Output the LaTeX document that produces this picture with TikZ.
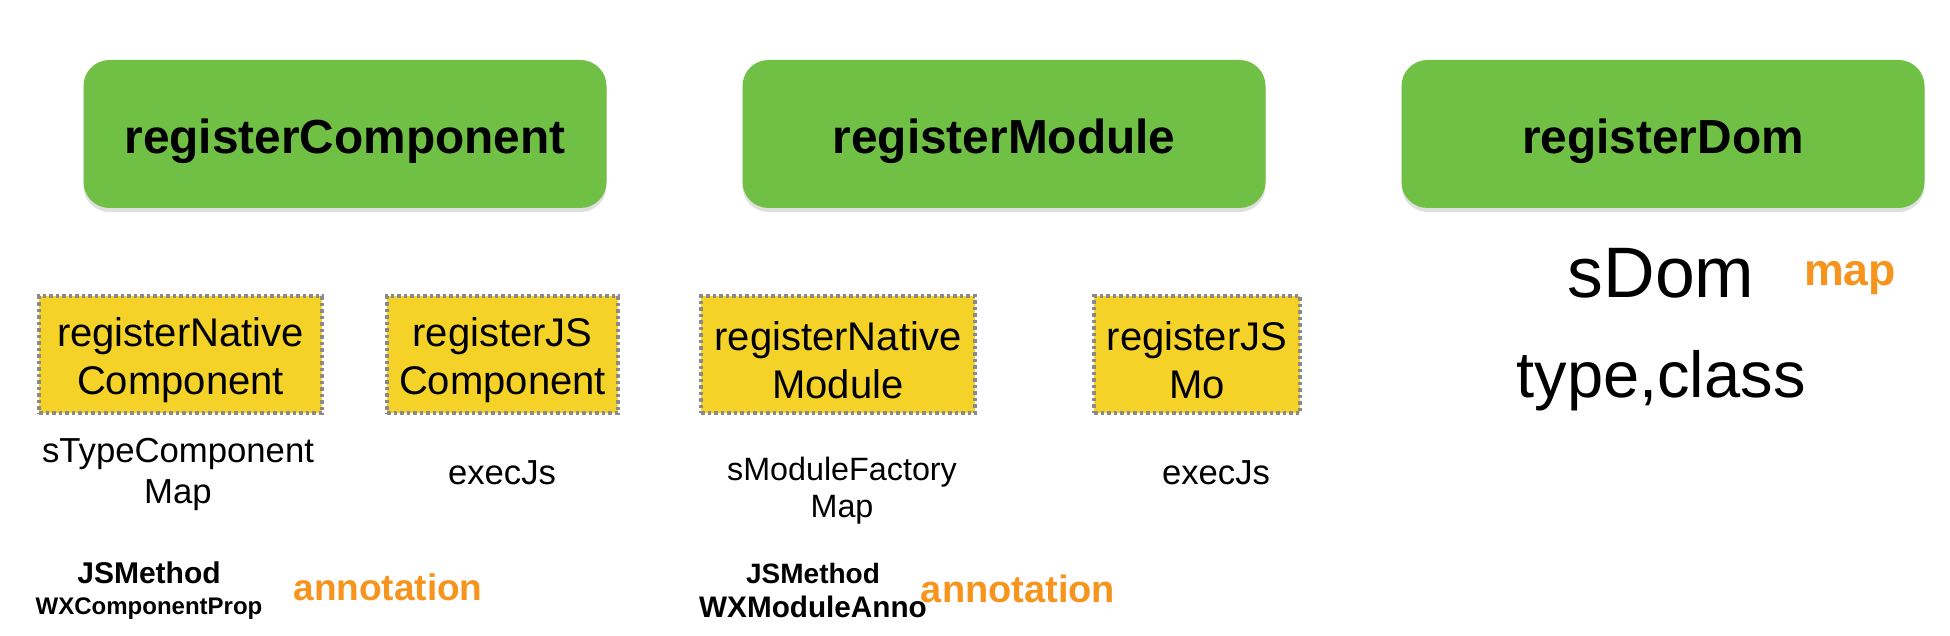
\documentclass[tikz,border=0pt]{standalone}
\usepackage{fontspec}
\setmainfont{Liberation Sans}
\usepackage{xcolor}
\usetikzlibrary{shadows}

\definecolor{regGreen}{RGB}{112,192,69}
\definecolor{natYellow}{RGB}{245,210,40}
\definecolor{dashGray}{RGB}{138,138,138}
\definecolor{annoOrange}{RGB}{247,148,29}

% lower a line of text without changing its box
\newcommand{\lowline}[1]{\raisebox{-6pt}[\height][\depth]{#1}}

\begin{document}
\begin{tikzpicture}[x=1pt, y=-1pt,
    regbox/.style={rectangle, rounded corners=26pt, fill=regGreen, minimum width=523pt, minimum height=148pt, inner sep=0pt, text height=50pt, text depth=10pt, font=\fontsize{47.8}{57}\selectfont\bfseries, drop shadow={shadow xshift=0pt, shadow yshift=-4pt, opacity=0.25}},
    natbox/.style={rectangle, fill=natYellow, draw=dashGray, line width=3.5pt, dash pattern=on 3.5pt off 3pt, minimum height=117pt, inner sep=0pt, align=center, font=\fontsize{40}{48}\selectfont},
    maplabel/.style={align=center, inner sep=0pt, font=\fontsize{34.7}{41}\selectfont},
    methodlabel/.style={inner sep=0pt, font=\fontsize{30}{36}\selectfont\bfseries},
    annolabel/.style={inner sep=0pt, text=annoOrange, font=\fontsize{37}{44}\selectfont\bfseries}]

    \path[use as bounding box, fill=white] (0,0) rectangle (1950,636);

    % register calls
    \node (regcomp) [regbox] at (345,134) {registerComponent};
    \node (regmod) [regbox] at (1004,134) {registerModule};
    \node (regdom) [regbox] at (1663,134) {registerDom};

    % native / js registration
    \node (nativecomp) [natbox, minimum width=283pt] at (180.5,354.5) {\lowline{registerNative}\\\lowline{Component}};
    \node (jscomp) [natbox, minimum width=231pt] at (502.5,354.5) {\lowline{registerJS}\\\lowline{Component}};
    \node (nativemod) [natbox, minimum width=274pt] at (838,354.5) {\lowline{registerNative}\\\lowline{Module}};
    \node (jsmod) [natbox, minimum width=206pt] at (1197,354.5) {\lowline{registerJS}\\\lowline{Mo}};

    % storage
    \node (typemap) [maplabel] at (178,474) {sTypeComponent\\Map};
    \node (compexec) [maplabel] at (502,473) {execJs};
    \node (factorymap) [maplabel, font=\fontsize{32.3}{37}\selectfont] at (842,491) {sModuleFactory\\Map};
    \node (modexec) [maplabel] at (1216,473) {execJs};

    % annotations
    \node (compmethod) [methodlabel] at (149,573) {JSMethod};
    \node (compprop) [methodlabel, font=\fontsize{24}{29}\selectfont\bfseries] at (149,609) {WXComponentProp};
    \node (companno) [annolabel] at (388,587) {annotation};
    \node (modmethod) [methodlabel, font=\fontsize{28}{34}\selectfont\bfseries] at (813,573) {JSMethod};
    \node (modanno) [methodlabel, font=\fontsize{29.7}{36}\selectfont\bfseries] at (813,607) {WXModuleAnno};
    \node (modannolabel) [annolabel, font=\fontsize{38}{45}\selectfont\bfseries] at (1018,589) {annotation};

    % dom
    \node (sdom) [inner sep=0pt, font=\fontsize{71.5}{86}\selectfont] at (1661,273.5) {sDom};
    \node (dommap) [annolabel, font=\fontsize{44.7}{54}\selectfont\bfseries] at (1850,278) {map};
    \node (typeclass) [inner sep=0pt, font=\fontsize{65}{78}\selectfont] at (1661,381) {type,class};

\end{tikzpicture}
\end{document}
